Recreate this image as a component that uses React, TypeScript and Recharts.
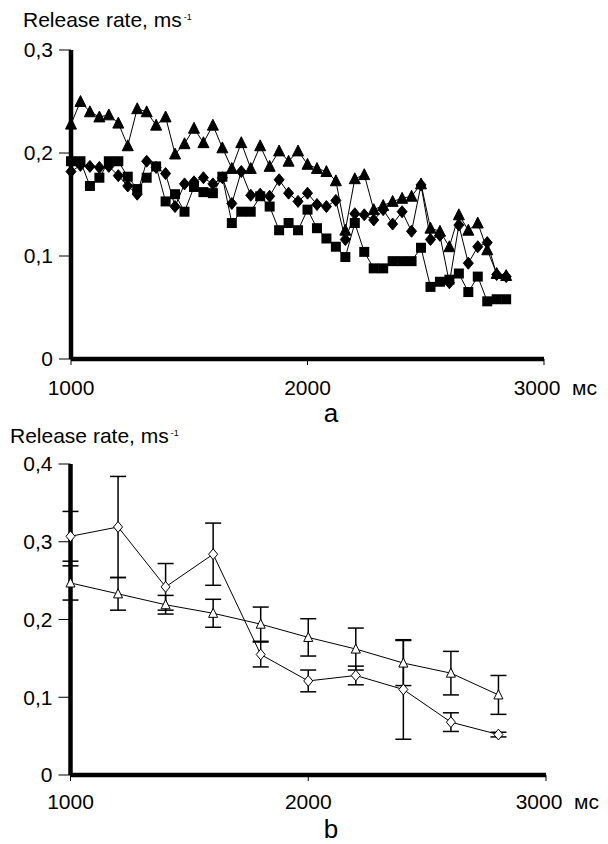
import React from 'react';
import { LineChart, Line, XAxis, YAxis, ErrorBar } from 'recharts';

// panel a: release rate sampled every 40 ms
const timesA = [
  1000, 1040, 1080, 1120, 1160, 1200, 1240, 1280, 1320, 1360, 1400, 1440,
  1480, 1520, 1560, 1600, 1640, 1680, 1720, 1760, 1800, 1840, 1880, 1920,
  1960, 2000, 2040, 2080, 2120, 2160, 2200, 2240, 2280, 2320, 2360, 2400,
  2440, 2480, 2520, 2560, 2600, 2640, 2680, 2720, 2760, 2800, 2840,
];
const triangleA = [
  0.228, 0.25, 0.24, 0.235, 0.237, 0.229, 0.207, 0.243, 0.24, 0.227, 0.235, 0.199,
  0.209, 0.224, 0.21, 0.227, 0.205, 0.185, 0.21, 0.185, 0.207, 0.187, 0.202, 0.192,
  0.202, 0.189, 0.185, 0.182, 0.173, 0.125, 0.175, 0.179, 0.145, 0.149, 0.153, 0.156,
  0.158, 0.17, 0.127, 0.124, 0.109, 0.14, 0.125, 0.132, 0.106, 0.083, 0.081,
];
const diamondA = [
  0.182, 0.188, 0.187, 0.186, 0.187, 0.178, 0.168, 0.16, 0.192, 0.186, 0.18, 0.148,
  0.17, 0.172, 0.176, 0.17, 0.176, 0.151, 0.182, 0.159, 0.16, 0.158, 0.174, 0.161,
  0.153, 0.161, 0.15, 0.148, 0.154, 0.116, 0.141, 0.14, 0.135, 0.145, 0.131, 0.143,
  0.124, 0.169, 0.116, 0.12, 0.074, 0.13, 0.093, 0.109, 0.113, 0.082, 0.08,
];
const squareA = [
  0.192, 0.192, 0.168, 0.176, 0.192, 0.192, 0.177, 0.165, 0.176, 0.187, 0.153, 0.16,
  0.143, 0.167, 0.162, 0.161, 0.177, 0.132, 0.143, 0.143, 0.158, 0.148, 0.125, 0.132,
  0.125, 0.145, 0.127, 0.117, 0.109, 0.099, 0.132, 0.104, 0.088, 0.088, 0.095, 0.095,
  0.095, 0.108, 0.07, 0.075, 0.077, 0.083, 0.065, 0.08, 0.056, 0.058, 0.058,
];

// panel b: means with error bars every 200 ms
const timesB = [1000, 1200, 1400, 1600, 1800, 2000, 2200, 2400, 2600, 2800];
const diamondB = [0.307, 0.319, 0.242, 0.284, 0.155, 0.121, 0.128, 0.11, 0.068, 0.052];
const diamondErrB = [0.032, 0.065, 0.03, 0.04, 0.016, 0.014, 0.012, 0.064, 0.012, 0.003];
const triangleB = [0.247, 0.233, 0.219, 0.208, 0.194, 0.177, 0.162, 0.144, 0.131, 0.103];
const triangleErrB = [0.022, 0.021, 0.012, 0.018, 0.022, 0.024, 0.027, 0.029, 0.028, 0.025];

const xTicks = [1000, 2000, 3000];
const yTicksA = [0, 0.1, 0.2, 0.3];
const yTicksB = [0, 0.1, 0.2, 0.3, 0.4];

const dataA = timesA.map((t, i) => ({ t, tri: triangleA[i], dia: diamondA[i], sq: squareA[i] }));
const dataB = timesB.map((t, i) => ({
  t,
  dia: diamondB[i],
  diaErr: diamondErrB[i],
  tri: triangleB[i],
  triErr: triangleErrB[i],
}));

const FONT = '"Liberation Sans", Arial, sans-serif';
const fmt = (v: number) => String(v).replace('.', ',');

const triDot = (size: number, filled: boolean) => (p: any) => {
  const { cx, cy, index } = p;
  if (cx == null || cy == null) return <g key={index} />;
  const h = size * 0.9;
  return (
    <path
      key={index}
      d={`M${cx},${cy - h / 2 - 1}L${cx + size / 2},${cy + h / 2}L${cx - size / 2},${cy + h / 2}Z`}
      fill={filled ? '#000' : '#fff'}
      stroke="#000"
      strokeWidth={1}
    />
  );
};

const diaDot = (size: number, filled: boolean) => (p: any) => {
  const { cx, cy, index } = p;
  if (cx == null || cy == null) return <g key={index} />;
  const w = size / 2;
  const h = size * 0.6;
  return (
    <path
      key={index}
      d={`M${cx},${cy - h}L${cx + w},${cy}L${cx},${cy + h}L${cx - w},${cy}Z`}
      fill={filled ? '#000' : '#fff'}
      stroke="#000"
      strokeWidth={1}
    />
  );
};

const sqDot = (size: number) => (p: any) => {
  const { cx, cy, index } = p;
  if (cx == null || cy == null) return <g key={index} />;
  return <rect key={index} x={cx - size / 2} y={cy - size / 2} width={size} height={size} fill="#000" />;
};

// x tick labels; the last one carries the unit
const makeXTick = (dy: number) => (props: any) => {
  const { x, y, payload } = props;
  const last = payload.value === 3000;
  return (
    <g>
      <text x={last ? x - 7 : x} y={y} dy={dy} textAnchor="middle" fontSize={21} fontFamily={FONT} fill="#000">
        {payload.value}
      </text>
      {last && (
        <text x={x + 28} y={y} dy={dy} textAnchor="start" fontSize={21} fontFamily={FONT} fill="#000">
          мс
        </text>
      )}
    </g>
  );
};

const Title = ({ left, top }: { left: number; top: number }) => (
  <div style={{ position: 'absolute', left, top, fontSize: 21, lineHeight: '21px', whiteSpace: 'nowrap' }}>
    Release rate, ms
    <span style={{ fontSize: 9, position: 'relative', top: -7, marginLeft: 2 }}>-1</span>
  </div>
);

const PanelLetter = ({ text, top }: { text: string; top: number }) => (
  <div style={{ position: 'absolute', left: 331, top, fontSize: 26, lineHeight: '29px', transform: 'translateX(-50%)' }}>
    {text}
  </div>
);

const axisCommon = {
  stroke: '#000',
  axisLine: { stroke: '#000', strokeWidth: 4.5 },
  tickLine: { stroke: '#000', strokeWidth: 1 },
};

const App: React.FC = () => {
  return (
    <div style={{ position: 'absolute', left: 0, top: 0, width: 608, height: 844, background: '#fff', fontFamily: FONT, color: '#000', overflow: 'hidden' }}>
      <Title left={23} top={9} />
      <div style={{ position: 'absolute', left: 0, top: 0 }}>
        <LineChart width={608} height={420} data={dataA} margin={{ top: 50, right: 64, bottom: 21, left: 11 }}>
          <XAxis
            dataKey="t"
            type="number"
            domain={[1000, 3000]}
            ticks={xTicks}
            height={40}
            tickSize={6}
            tickMargin={2}
            tick={makeXTick(28)}
            {...axisCommon}
          />
          <YAxis
            type="number"
            domain={[0, 0.3]}
            ticks={yTicksA}
            width={60}
            tickSize={12}
            tickMargin={6}
            tickFormatter={fmt}
            tick={{ fill: '#000', fontSize: 21, fontFamily: FONT }}
            {...axisCommon}
          />
          <Line dataKey="sq" stroke="#000" strokeWidth={1} dot={sqDot(10)} isAnimationActive={false} />
          <Line dataKey="dia" stroke="#000" strokeWidth={1} dot={diaDot(10, true)} isAnimationActive={false} />
          <Line dataKey="tri" stroke="#000" strokeWidth={1} dot={triDot(11, true)} isAnimationActive={false} />
        </LineChart>
      </div>
      <PanelLetter text="a" top={399} />

      <Title left={10} top={425} />
      <div style={{ position: 'absolute', left: 0, top: 420 }}>
        <LineChart width={608} height={424} data={dataB} margin={{ top: 44, right: 62, bottom: 29, left: 10.5 }}>
          <XAxis
            dataKey="t"
            type="number"
            domain={[1000, 3000]}
            ticks={xTicks}
            height={40}
            tickSize={6}
            tickMargin={2}
            tick={makeXTick(26)}
            {...axisCommon}
          />
          <YAxis
            type="number"
            domain={[0, 0.4]}
            ticks={yTicksB}
            width={60}
            tickSize={12}
            tickMargin={6}
            tickFormatter={fmt}
            tick={{ fill: '#000', fontSize: 21, fontFamily: FONT }}
            {...axisCommon}
          />
          <Line dataKey="tri" stroke="#000" strokeWidth={1} dot={triDot(9, false)} isAnimationActive={false}>
            <ErrorBar dataKey="triErr" width={8} stroke="#000" strokeWidth={1.5} direction="y" />
          </Line>
          <Line dataKey="dia" stroke="#000" strokeWidth={1} dot={diaDot(9, false)} isAnimationActive={false}>
            <ErrorBar dataKey="diaErr" width={8} stroke="#000" strokeWidth={1.5} direction="y" />
          </Line>
        </LineChart>
      </div>
      <PanelLetter text="b" top={815} />
    </div>
  );
};

export default App;
